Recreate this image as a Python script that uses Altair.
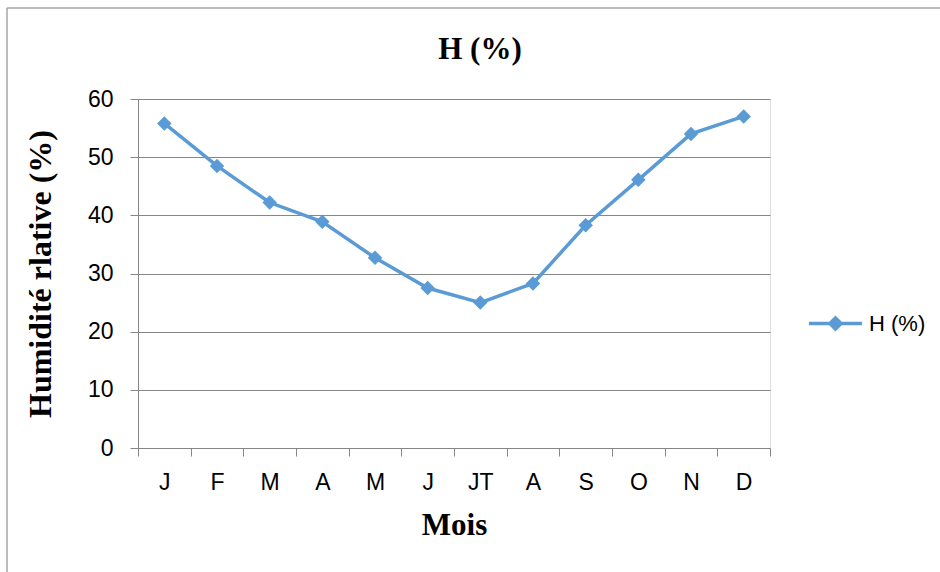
import altair as alt
import pandas as pd

# Mean monthly relative humidity
mois = ["J", "F", "M", "A", "M", "J", "JT", "A", "S", "O", "N", "D"]
humidite = [55.8, 48.5, 42.2, 38.9, 32.7, 27.5, 25.0, 28.3, 38.3, 46.1, 54.0, 57.0]
serie = "H (%)"

df = pd.DataFrame({
    "pos": list(range(len(mois))),
    "mois": mois,
    "H": humidite,
    "serie": [serie] * len(mois),
})

BLUE = "#5B9BD5"
GRID = "#868686"
label_expr = "[" + ",".join(f"'{m}'" for m in mois) + "][datum.value]"

base = alt.Chart(df)

line = base.mark_line(
    strokeWidth=3.5,
    point=alt.OverlayMarkDef(shape="diamond", size=210, filled=True, color=BLUE),
).encode(
    x=alt.X(
        "pos:O",
        scale=alt.Scale(type="band", paddingInner=0, paddingOuter=0),
        axis=alt.Axis(
            title="Mois",
            labelExpr=label_expr,
            labelAngle=0,
            tickBand="extent",
            grid=False,
            domainColor=GRID,
            tickColor=GRID,
            tickSize=8,
            labelPadding=15,
            labelFont="Liberation Sans",
            labelFontSize=23,
            labelColor="black",
            titleFont="Liberation Serif",
            titleFontSize=31,
            titleFontWeight="bold",
            titleColor="black",
            titlePadding=16,
        ),
    ),
    y=alt.Y(
        "H:Q",
        scale=alt.Scale(domain=[0, 60]),
        axis=alt.Axis(
            title="Humidité rlative (%)",
            values=[0, 10, 20, 30, 40, 50, 60],
            grid=True,
            gridColor=GRID,
            gridWidth=1.2,
            domainColor=GRID,
            tickColor=GRID,
            tickSize=8,
            labelPadding=17,
            labelFont="Liberation Sans",
            labelFontSize=23,
            labelColor="black",
            titleFont="Liberation Serif",
            titleFontSize=32,
            titleFontWeight="bold",
            titleColor="black",
            titlePadding=30,
        ),
    ),
    color=alt.Color(
        "serie:N",
        scale=alt.Scale(range=[BLUE]),
        legend=alt.Legend(
            title=None,
            orient="none",
            legendX=669,
            legendY=196,
            symbolType="M-1,0H1M0,-0.21L0.21,0L0,0.21L-0.21,0Z",
            symbolSize=2809,
            symbolStrokeWidth=3.5,
            symbolFillColor=BLUE,
            symbolStrokeColor=BLUE,
            labelFont="Liberation Sans",
            labelFontSize=22,
            labelColor="black",
            labelOffset=5,
        ),
    ),
)

# Outer frame of the chart area (top and left edges)
frame_data = alt.Data(values=[{}])
frame_left = alt.Chart(frame_data).mark_rule(color="#A6A6A6", strokeWidth=1.5).encode(
    x=alt.value(-131), y=alt.value(-91), y2=alt.value(480)
)
frame_top = alt.Chart(frame_data).mark_rule(color="#A6A6A6", strokeWidth=1.5).encode(
    x=alt.value(-131), x2=alt.value(810), y=alt.value(-91)
)

chart = alt.layer(frame_left, frame_top, line).properties(
    width=632,
    height=349,
    title=alt.TitleParams(
        "H (%)",
        font="Liberation Serif",
        fontSize=31,
        fontWeight="bold",
        color="black",
        anchor="middle",
        dx=26,
        dy=93,
        offset=34,
    ),
    padding={"left": 138, "top": 99, "right": 170, "bottom": 124},
    autosize=alt.AutoSizeParams(type="none"),
).configure_view(stroke=None).configure(background="white")

chart.save("out.html", embed_options={"renderer": "svg", "actions": False})
